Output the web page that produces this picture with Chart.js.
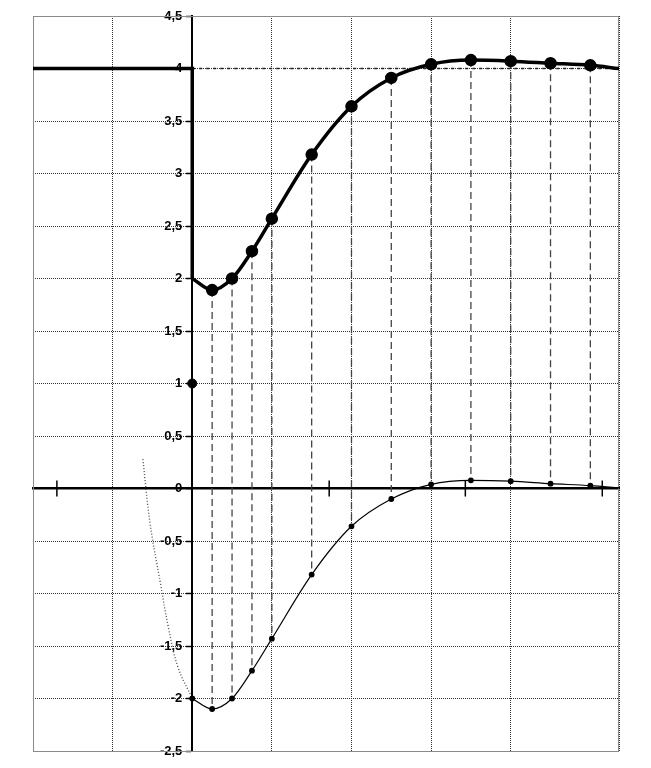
<!DOCTYPE html>
<html>
<head>
<meta charset="utf-8">
<script src="https://cdn.jsdelivr.net/npm/chart.js@4.4.0/dist/chart.umd.min.js"></script>
<style>
  html, body { margin: 0; padding: 0; background: #fff; }
  #grafico { display: block; }
</style>
</head>
<body>
<canvas id="grafico" width="651" height="768"></canvas>
<script>
/* ==========================================================================
   respuesta al escalón · curva superior (gruesa) y su derivada (fina)
   eje x en unidades de cuadrícula, 0 = eje vertical
   ========================================================================== */
var X_MIN = -2, X_MAX = 5.36;
var Y_MIN = -2.5, Y_MAX = 4.5, Y_PASO = 0.5;

// escalón de entrada (4 → 2 en t = 0)
var escalonX = [-2, 0, 0];
var escalonY = [4, 4, 2];

// muestras (puntos) de ambas curvas
var muestrasX = [0.25, 0.5, 0.75, 1, 1.5, 2, 2.5, 3, 3.5, 4, 4.5, 5];
var superiorY = [1.89, 2.0, 2.26, 2.57, 3.18, 3.64, 3.91, 4.04, 4.08, 4.07, 4.05, 4.03];
var inferiorY = [-2.10, -2.0, -1.735, -1.43, -0.82, -0.36, -0.10, 0.04, 0.078, 0.07, 0.046, 0.027];

// extremos de las curvas (sin punto)
var superiorIni = [0, 2], superiorFin = [5.36, 4.0];
var inferiorIni = [0, -2], inferiorFin = [5.36, 0.005];

// punto aislado en t = 0
var puntoX = [0], puntoY = [1];

// rama punteada a la izquierda
var ramaX = [-0.62, -0.53, -0.40, -0.30, -0.18, 0];
var ramaY = [0.28, -0.33, -0.90, -1.32, -1.70, -2];

// referencia horizontal y = 4
var refX = [0, 5.36], refY = [4, 4];

// marcas sobre el eje x
var marcasX = [-1.7, 1.72, 3.43, 5.15];

(function () {
    function pares(xs, ys) {
        return xs.map(function (x, i) { return { x: x, y: ys[i] }; });
    }

    function curva(ini, xs, ys, fin) {
        return [{ x: ini[0], y: ini[1] }].concat(pares(xs, ys), [{ x: fin[0], y: fin[1] }]);
    }

    // verticales discontinuas entre la curva superior y la inferior
    var verticales = [];
    muestrasX.forEach(function (x, i) {
        verticales.push({ x: x, y: superiorY[i] }, { x: x, y: inferiorY[i] }, { x: x, y: null });
    });

    var radios = function (n, r) {
        var a = [0];
        for (var i = 0; i < n; i++) a.push(r);
        a.push(0);
        return a;
    };
    var radiosInf = radios(muestrasX.length, 2.3);
    radiosInf[0] = 2.3;

    var marco = {
        id: 'marco',
        beforeDatasetsDraw: function (chart) {
            var a = chart.chartArea, ctx = chart.ctx;
            ctx.save();
            ctx.strokeStyle = '#8a8a8a';
            ctx.lineWidth = 1;
            ctx.strokeRect(a.left + 0.5, a.top + 0.5, a.right - a.left - 1, a.bottom - a.top);
            ctx.restore();
        }
    };

    var fuente = { family: '"Liberation Sans", Arial, sans-serif', size: 13, weight: 'bold' };

    new Chart(document.getElementById('grafico'), {
        type: 'line',
        data: {
            datasets: [
                {
                    data: pares(puntoX, puntoY),
                    showLine: false,
                    pointRadius: 4.5,
                    backgroundColor: '#000',
                    borderColor: '#000'
                },
                {
                    data: curva(superiorIni, muestrasX, superiorY, superiorFin),
                    borderColor: '#000',
                    borderWidth: 3.5,
                    cubicInterpolationMode: 'monotone',
                    pointRadius: radios(muestrasX.length, 4.5),
                    backgroundColor: '#000'
                },
                {
                    data: pares(escalonX, escalonY),
                    borderColor: '#000',
                    borderWidth: 3.5,
                    tension: 0,
                    pointRadius: 0
                },
                {
                    data: curva(inferiorIni, muestrasX, inferiorY, inferiorFin),
                    borderColor: '#000',
                    borderWidth: 1.2,
                    cubicInterpolationMode: 'monotone',
                    pointRadius: radiosInf,
                    backgroundColor: '#000'
                },
                {
                    data: pares(ramaX, ramaY),
                    borderColor: '#555',
                    borderWidth: 1.4,
                    borderDash: [1, 2],
                    tension: 0.4,
                    pointRadius: 0
                },
                {
                    data: pares(refX, refY),
                    borderColor: '#222',
                    borderWidth: 1.5,
                    borderDash: [3, 4],
                    pointRadius: 0
                },
                {
                    data: verticales,
                    borderColor: '#444',
                    borderWidth: 1.3,
                    borderDash: [7, 4],
                    spanGaps: false,
                    tension: 0,
                    pointRadius: 0
                },
                {
                    data: marcasX.map(function (x) { return { x: x, y: 0 }; }),
                    showLine: false,
                    pointStyle: 'line',
                    rotation: 90,
                    pointRadius: 8,
                    borderColor: '#000',
                    borderWidth: 1.5
                }
            ]
        },
        options: {
            responsive: false,
            animation: false,
            layout: { padding: { left: 33, top: 16, right: 32, bottom: 17 } },
            plugins: { legend: { display: false }, tooltip: { enabled: false } },
            scales: {
                x: {
                    type: 'linear',
                    min: X_MIN,
                    max: X_MAX,
                    position: { y: 0 },
                    ticks: { display: false, stepSize: 1 },
                    grid: { color: '#333', lineWidth: 1, drawTicks: false },
                    border: { color: '#000', width: 2.5, dash: [1, 1] }
                },
                y: {
                    type: 'linear',
                    min: Y_MIN,
                    max: Y_MAX,
                    position: { x: 0 },
                    ticks: { stepSize: Y_PASO, display: false },
                    grid: { color: '#333', lineWidth: 1, tickLength: 5, tickColor: '#000', tickWidth: 1.5 },
                    border: { color: '#000', width: 2, dash: [1, 1] }
                },
                // etiquetas del eje vertical, un poco a la izquierda del eje
                yEtiq: {
                    type: 'linear',
                    axis: 'y',
                    min: Y_MIN,
                    max: Y_MAX,
                    position: { x: -0.125 },
                    ticks: {
                        stepSize: Y_PASO,
                        color: '#000',
                        font: fuente,
                        callback: function (v) { return String(v).replace('.', ','); }
                    },
                    grid: { display: false },
                    border: { display: false }
                }
            }
        },
        plugins: [marco]
    });
})();
</script>
</body>
</html>
